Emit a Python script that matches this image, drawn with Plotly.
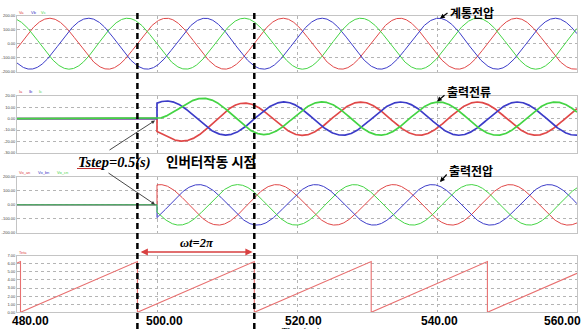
import numpy as np
import plotly.graph_objects as go

W, H = 585, 329

# ---- time axis (ms) ----
t_start, t_end = 480.0, 560.0
x_ticks = [480, 500, 520, 540, 560]
x_tick_text = ["480.00", "500.00", "520.00", "540.00", "560.00"]
x_label_shift = [13, 7, 6, 2, -15]

# ---- phase angle (rad): reset instants of the ramp, period of one cycle ----
theta_resets = [480.5, 497.2, 513.9, 530.6, 547.2]
period_ms = 16.67
theta_top = 2 * np.pi

# ---- instant the inverter starts (ms) ----
inverter_on = 500.0

# ---- grid voltages (red, blue, green): amplitude and peak angle (deg) ----
grid_amp = 182.0
grid_peak_deg = [90, 210, 330]

# ---- inverter output currents: amplitude, peak angle, start offset, decay ----
cur_amp = 14.5
cur_peak_deg = [330, 93, 210]
cur_offset = [-11.0, 1.2, 12.5]
cur_tau_ms = 5.0

# ---- inverter output voltages: amplitude and peak angle ----
out_amp = 144.0
out_peak_deg = [70, 190, 310]

# ---- y axes: tick values (first/last are the range) ----
y1_ticks = [-200, -100, 0, 100, 200]
y2_ticks = [-30, -20, -10, 0, 10, 20]
y3_ticks = [-200, -100, 0, 100, 200]
y4_ticks = [0, 1, 2, 3, 4, 5, 6, 7]

trace_names = [["Va", "Vb", "Vc"], ["Ia", "Ib", "Ic"],
               ["Vo_an", "Vo_bn", "Vo_cn"], ["Teta"]]
colors = ["#e04848", "#3c3cc8", "#44d444"]

# ---------------------------------------------------------------
t = np.linspace(t_start, t_end, 4001)


def phase_at(tt):
    return 2 * np.pi * (tt - theta_resets[0]) / period_ms


def wave(amp, peak_deg):
    return amp * np.cos(phase_at(t) - np.deg2rad(peak_deg))


# switched signals: zero before start, a jump at the start instant
before = t < inverter_on
t_sw = np.concatenate([t[before], [inverter_on], [inverter_on], t[~before]])


def switched(values_after_fn):
    after = values_after_fn(np.concatenate([[inverter_on], t[~before]]))
    return np.concatenate([np.zeros(before.sum()), [0.0], after])


# theta sawtooth built from its corner points
th_x, th_y = [t_start], [theta_top * (1 - (theta_resets[0] - t_start) / period_ms)]
for r in theta_resets:
    th_x += [r, r]
    th_y += [theta_top, 0.0]
th_x.append(t_end)
th_y.append(theta_top * (t_end - theta_resets[-1]) / period_ms)

# panel geometry in pixels (top, bottom) and x extent
panels_px = [(15.7, 71.7), (95.7, 153.0), (176.7, 233.0), (255.7, 312.3)]
x_left_px, x_right_px = 17, 577


def px(x):
    return x / W


def py(y):
    return 1 - y / H


fig = go.Figure()

# panel 1: grid voltages
for k in range(3):
    fig.add_trace(go.Scatter(x=t, y=wave(grid_amp, grid_peak_deg[k]), mode="lines",
                             line=dict(color=colors[k], width=1), xaxis="x", yaxis="y"))

# panel 2: output currents
for k in range(3):
    y = switched(lambda tt, k=k: cur_amp * np.cos(phase_at(tt) - np.deg2rad(cur_peak_deg[k]))
                 + cur_offset[k] * np.exp(-(tt - inverter_on) / cur_tau_ms))
    fig.add_trace(go.Scatter(x=t_sw, y=y, mode="lines",
                             line=dict(color=colors[k], width=1.7), xaxis="x2", yaxis="y2"))

# panel 3: output voltages
for k in range(3):
    y = switched(lambda tt, k=k: out_amp * np.cos(phase_at(tt) - np.deg2rad(out_peak_deg[k])))
    fig.add_trace(go.Scatter(x=t_sw, y=y, mode="lines",
                             line=dict(color=colors[k], width=1), xaxis="x3", yaxis="y3"))

# panel 4: phase angle
fig.add_trace(go.Scatter(x=th_x, y=th_y, mode="lines",
                         line=dict(color="#e87070", width=1.1), xaxis="x4", yaxis="y4"))

grid_style = dict(showgrid=True, gridcolor="#b4b4b4", griddash="dot", gridwidth=1,
                  showline=True, linecolor="#c4c4c4", linewidth=1, mirror=True,
                  zeroline=False, ticks="", automargin=False)

layout = dict(width=W, height=H, margin=dict(l=0, r=0, t=0, b=0),
              paper_bgcolor="white", plot_bgcolor="white", showlegend=False)

ytick_sets = [y1_ticks, y2_ticks, y3_ticks, y4_ticks]
for i, ((top, bot), yt) in enumerate(zip(panels_px, ytick_sets)):
    sfx = "" if i == 0 else str(i + 1)
    layout["xaxis" + sfx] = dict(domain=[px(x_left_px), px(x_right_px)], range=[t_start, t_end],
                                 tickvals=x_ticks[1:-1], showticklabels=False,
                                 anchor="y" + sfx, **grid_style)
    layout["yaxis" + sfx] = dict(domain=[py(bot), py(top)], range=[yt[0], yt[-1]],
                                 tickvals=yt, ticktext=[f"{v:.2f}" for v in yt],
                                 tickfont=dict(size=4, color="#444", family="Liberation Sans"),
                                 anchor="x" + sfx, **grid_style)
fig.update_layout(**layout)

ann = []
# tiny trace labels above each panel
label_pos = [([17, 29, 39], 12), ([17, 27, 37], 91.5), ([17, 36, 55], 172.3), ([17], 252)]
for names, (xs, yy) in zip(trace_names, label_pos):
    for k, (nm, xx) in enumerate(zip(names, xs)):
        c = colors[k] if len(names) > 1 else "#e04848"
        ann.append(dict(x=px(xx), y=py(yy), xref="paper", yref="paper", text=nm,
                        showarrow=False, xanchor="left", yanchor="middle",
                        font=dict(size=4, color=c, family="Liberation Sans")))

# time tick labels
for v, txt, sh in zip(x_ticks, x_tick_text, x_label_shift):
    ann.append(dict(x=v, xref="x4", y=py(320.5), yref="paper", text=f"<b>{txt}</b>",
                    xshift=sh, showarrow=False, xanchor="center", yanchor="middle",
                    font=dict(size=12, color="black", family="Liberation Sans")))
ann.append(dict(x=px(300), y=py(324), xref="paper", yref="paper", text="<b><i>Time(ms)</i></b>",
                showarrow=False, xanchor="center", yanchor="top",
                font=dict(size=10, color="#222", family="Liberation Serif")))

# waveform callouts
kfont = dict(size=12, color="black", family="Noto Sans CJK KR")
ann.append(dict(x=px(448), y=py(13), xref="paper", yref="paper", text="<b>계통전압</b>",
                showarrow=False, xanchor="left", yanchor="middle", font=kfont))
ann.append(dict(x=px(445), y=py(92), xref="paper", yref="paper", text="<b>출력전류</b>",
                showarrow=False, xanchor="left", yanchor="middle", font=kfont))
ann.append(dict(x=px(447), y=py(170), xref="paper", yref="paper", text="<b>출력전압</b>",
                showarrow=False, xanchor="left", yanchor="middle", font=kfont))
for (tx, ty), (hx, hy) in [((449, 12), (440, 18.5)), ((446, 94), (437, 101.5)),
                           ((448, 173), (440, 182))]:
    ann.append(dict(x=px(hx), y=py(hy), xref="paper", yref="paper", text="",
                    showarrow=True, ax=tx - hx, ay=ty - hy, arrowhead=2, arrowsize=0.8,
                    arrowwidth=1.2, arrowcolor="black"))

# start-instant callout
ann.append(dict(x=px(76), y=py(162), xref="paper", yref="paper",
                text="<b><i>Tstep=0.5(s)</i></b>", showarrow=False,
                xanchor="left", yanchor="middle",
                font=dict(size=14.5, color="black", family="Liberation Serif")))
ann.append(dict(x=px(164), y=py(161), xref="paper", yref="paper",
                text="<b>인버터작동 시점</b>", showarrow=False,
                xanchor="left", yanchor="middle",
                font=dict(size=13.5, color="black", family="Noto Sans CJK KR")))
for (tx, ty), (hx, hy) in [((108, 151), (155, 120.5)), ((107, 172), (155, 204.5))]:
    ann.append(dict(x=px(hx), y=py(hy), xref="paper", yref="paper", text="",
                    showarrow=True, ax=tx - hx, ay=ty - hy, arrowhead=2, arrowsize=0.8,
                    arrowwidth=0.9, arrowcolor="#333"))

# one cycle marker between two resets of the phase angle
ann.append(dict(x=theta_resets[2] - 0.25, y=py(252), xref="x4", yref="paper",
                ax=theta_resets[1] + 0.25, ay=0, axref="x4", ayref="pixel",
                text="", showarrow=True, arrowside="end+start", arrowhead=2,
                startarrowhead=2, arrowsize=0.9, startarrowsize=0.9,
                arrowwidth=1.6, arrowcolor="#d84040"))
ann.append(dict(x=px(197), y=py(243.5), xref="paper", yref="paper",
                text="<b><i>ωt=2π</i></b>", showarrow=False,
                xanchor="center", yanchor="middle",
                font=dict(size=12.5, color="black", family="Liberation Serif")))

fig.update_layout(annotations=ann)

# red wavy spell-check mark under "Tstep" and the two dashed cycle markers
shapes = [dict(type="line", xref="paper", yref="paper", x0=px(77), x1=px(103),
               y0=py(168.5), y1=py(168.5), line=dict(color="#c03030", width=1))]
for r in theta_resets[1:3]:
    shapes.append(dict(type="line", xref="x4", yref="paper", x0=r, x1=r,
                       y0=0, y1=py(12), layer="above",
                       line=dict(color="black", width=2.5, dash="6px,4px")))
fig.update_layout(shapes=shapes)

fig.write_html("out.html")
